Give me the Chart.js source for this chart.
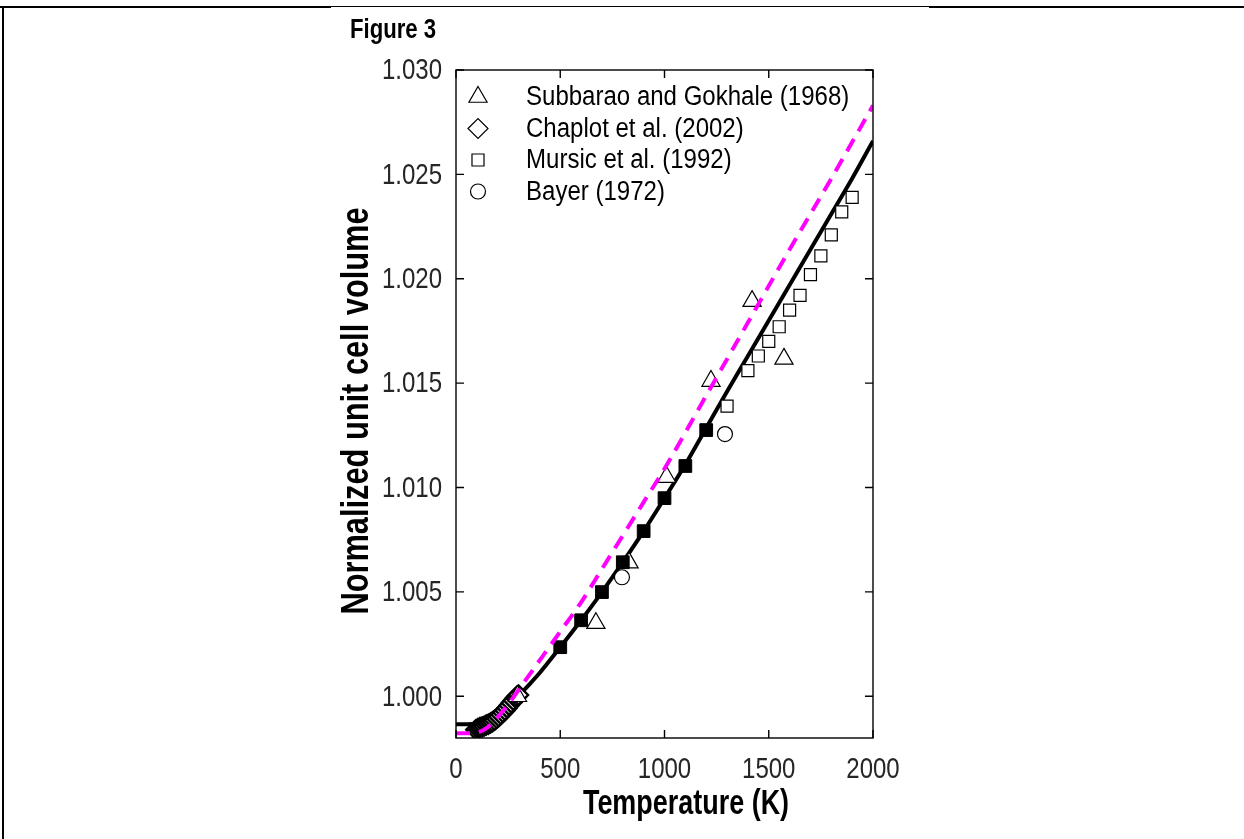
<!DOCTYPE html>
<html lang="en">
<head>
    <meta charset="UTF-8">
    <title>Figure 3</title>
    <style>
        body {
            margin: 0;
            padding: 0;
            background-color: #ffffff;
            overflow: hidden;
        }
        .page {
            position: relative;
            width: 1244px;
            height: 839px;
        }
        .rule {
            position: absolute;
            background: #000;
        }
        canvas {
            position: absolute;
            left: 0;
            top: 0;
        }
    </style>
    <script src="https://cdn.jsdelivr.net/npm/chart.js"></script>
</head>
<body>
<div class="page">
    <div class="rule" style="left:0;top:6px;width:331px;height:2px"></div>
    <div class="rule" style="left:331px;top:6px;width:598px;height:1px"></div>
    <div class="rule" style="left:929px;top:6px;width:315px;height:2px"></div>
    <div class="rule" style="left:2px;top:6px;width:2px;height:833px"></div>
    <canvas id="chartCanvas" width="1244" height="839"></canvas>
</div>
<script>
    // --- data ---
    const fitTemps = [0, 50, 100, 150, 200, 250, 300, 350, 400, 500, 600, 700, 800, 900, 1000, 1100, 1200, 1300, 1400, 1500, 1600, 1700, 1800, 1900, 2000];
    const fitVolume = [0.99866, 0.99866, 0.99868, 0.99885, 0.99918, 0.99957, 1.00003, 1.00055, 1.00110, 1.00235, 1.00364, 1.00499, 1.00642, 1.00791, 1.00949, 1.01110, 1.01285, 1.01460, 1.01630, 1.01800, 1.01970, 1.02140, 1.02310, 1.02480, 1.02660];

    const dashTemps = [0, 50, 100, 150, 200, 250, 300, 400, 500, 600, 700, 800, 900, 1000, 1200, 1400, 1600, 1800, 2000];
    const dashVolume = [0.99823, 0.99823, 0.99826, 0.99850, 0.99900, 0.99960, 1.00030, 1.00170, 1.00310, 1.00450, 1.00610, 1.00770, 1.00930, 1.01090, 1.01440, 1.01790, 1.02140, 1.02480, 1.02830];

    const calcTemps = [500, 600, 700, 800, 900, 1000, 1100, 1200];
    const calcVolume = [1.00235, 1.00364, 1.00499, 1.00642, 1.00791, 1.00949, 1.01103, 1.01275];

    const subbaraoTemps = [295, 671, 830, 1010, 1223, 1420, 1573];
    const subbaraoVolume = [1.00000, 1.00350, 1.00640, 1.01050, 1.01510, 1.01893, 1.01616];

    const chaplotTemps = [95, 105, 115, 125, 135, 145, 155, 165, 175, 185, 195, 205, 215, 225, 235, 245, 255, 265, 275, 285, 292, 300];
    const chaplotVolume = [0.99840, 0.99846, 0.99850, 0.99853, 0.99857, 0.99862, 0.99866, 0.99872, 0.99878, 0.99885, 0.99893, 0.99902, 0.99912, 0.99922, 0.99932, 0.99944, 0.99956, 0.99968, 0.99980, 0.99992, 1.00000, 1.00006];

    const mursicTemps = [1300, 1400, 1450, 1500, 1550, 1600, 1650, 1700, 1750, 1800, 1850, 1900];
    const mursicVolume = [1.01390, 1.01560, 1.01630, 1.01700, 1.01770, 1.01850, 1.01920, 1.02020, 1.02110, 1.02210, 1.02320, 1.02390];

    const bayerTemps = [293, 796, 1290];
    const bayerVolume = [0.99995, 1.00570, 1.01256];

    const xTicks = [0, 500, 1000, 1500, 2000];
    const yTicks = [1.000, 1.005, 1.010, 1.015, 1.020, 1.025, 1.030];

    const SANS = '"Liberation Sans", Arial, sans-serif';

    function pts(xs, ys) {
        return xs.map((v, i) => ({ x: v, y: ys[i] }));
    }

    function openMarker(style, radius, width) {
        return {
            showLine: false,
            pointStyle: style,
            pointRadius: radius,
            pointHoverRadius: radius,
            pointBackgroundColor: '#ffffff',
            pointBorderColor: '#000000',
            pointBorderWidth: width || 1.2,
            borderColor: '#000000',
            backgroundColor: '#ffffff',
            inLegend: true
        };
    }

    // the figure uses a narrow face; squeeze Liberation Sans along the text
    function drawText(ctx, text, x, y, font, squeeze, align) {
        ctx.save();
        ctx.translate(x, y);
        ctx.scale(squeeze, 1);
        ctx.font = font;
        ctx.textAlign = align;
        ctx.textBaseline = 'middle';
        ctx.fillText(text, 0, 0);
        ctx.restore();
    }

    const decor = {
        id: 'decor',
        afterDatasetsDraw(chart) {
            const ctx = chart.ctx;
            const a = chart.chartArea;
            const x = chart.scales.x;
            const y = chart.scales.y;
            ctx.save();

            // box round the axes
            ctx.strokeStyle = '#000';
            ctx.lineWidth = 1.4;
            ctx.strokeRect(a.left, a.top, a.right - a.left, a.bottom - a.top);

            // inward ticks on all four sides
            const len = 8;
            ctx.beginPath();
            x.ticks.forEach(t => {
                const px = x.getPixelForValue(t.value);
                ctx.moveTo(px, a.bottom); ctx.lineTo(px, a.bottom - len);
                ctx.moveTo(px, a.top); ctx.lineTo(px, a.top + len);
            });
            y.ticks.forEach(t => {
                const py = y.getPixelForValue(t.value);
                ctx.moveTo(a.left, py); ctx.lineTo(a.left + len, py);
                ctx.moveTo(a.right, py); ctx.lineTo(a.right - len, py);
            });
            ctx.stroke();

            // tick labels
            ctx.fillStyle = '#262626';
            x.ticks.forEach(t => {
                drawText(ctx, String(t.value), x.getPixelForValue(t.value), a.bottom + 32, '30px ' + SANS, 0.8, 'center');
            });
            y.ticks.forEach(t => {
                drawText(ctx, t.value.toFixed(3), a.left - 14, y.getPixelForValue(t.value) + 1, '30px ' + SANS, 0.8, 'right');
            });

            // legend, top left inside the axes
            let row = 0;
            chart.data.datasets.forEach(ds => {
                if (!ds.inLegend) return;
                const cy = a.top + 27 + row * 31.5;
                const cx = a.left + 22;
                ctx.fillStyle = '#ffffff';
                ctx.strokeStyle = '#000000';
                ctx.lineWidth = 1.2;
                Chart.helpers.drawPoint(ctx, {
                    pointStyle: ds.pointStyle,
                    radius: ds.legendRadius || ds.pointRadius,
                    borderWidth: 1.2
                }, cx, cy);
                ctx.fillStyle = '#000';
                drawText(ctx, ds.label, a.left + 70, cy + 1, '27px ' + SANS, 0.89, 'left');
                row++;
            });
            ctx.restore();
        },
        afterDraw(chart) {
            const ctx = chart.ctx;
            ctx.save();
            ctx.fillStyle = '#000';
            drawText(ctx, 'Figure 3', 350, 31, 'bold 27px ' + SANS, 0.82, 'left');
            drawText(ctx, 'Temperature (K)', 686, 804, 'bold 35px ' + SANS, 0.77, 'center');
            ctx.translate(358, 411);
            ctx.rotate(-Math.PI / 2);
            drawText(ctx, 'Normalized unit cell volume', 0, 0, 'bold 38px ' + SANS, 0.81, 'center');
            ctx.restore();
        }
    };

    new Chart(document.getElementById('chartCanvas').getContext('2d'), {
        type: 'scatter',
        data: {
            datasets: [
                {
                    label: 'fit',
                    type: 'line',
                    data: pts(fitTemps, fitVolume),
                    borderColor: '#000000',
                    borderWidth: 4,
                    pointRadius: 0,
                    cubicInterpolationMode: 'monotone',
                    order: 2
                },
                {
                    label: 'model',
                    type: 'line',
                    data: pts(dashTemps, dashVolume),
                    borderColor: '#ff00ff',
                    borderWidth: 4,
                    borderDash: [14, 9],
                    pointRadius: 0,
                    cubicInterpolationMode: 'monotone',
                    order: -1
                },
                {
                    label: 'calculated',
                    data: pts(calcTemps, calcVolume),
                    pointStyle: 'rect',
                    pointRadius: 9,
                    pointBackgroundColor: '#000000',
                    pointBorderColor: '#000000',
                    order: 0
                },
                Object.assign(openMarker('triangle', 10.5), {
                    label: 'Subbarao and Gokhale (1968)',
                    data: pts(subbaraoTemps, subbaraoVolume),
                    order: 0
                }),
                Object.assign(openMarker('rectRot', 9.5, 2.4), {
                    label: 'Chaplot et al. (2002)',
                    data: pts(chaplotTemps, chaplotVolume),
                    legendRadius: 10,
                    order: 0
                }),
                Object.assign(openMarker('rect', 8.5), {
                    label: 'Mursic et al. (1992)',
                    data: pts(mursicTemps, mursicVolume),
                    order: 0
                }),
                Object.assign(openMarker('circle', 7.5), {
                    label: 'Bayer (1972)',
                    data: pts(bayerTemps, bayerVolume),
                    order: 0
                })
            ]
        },
        options: {
            responsive: false,
            animation: false,
            layout: {
                padding: { top: 70, right: 371, bottom: 0, left: 0 }
            },
            plugins: {
                legend: { display: false },
                tooltip: { enabled: false }
            },
            scales: {
                x: {
                    type: 'linear',
                    min: 0,
                    max: 2000,
                    afterFit: s => { s.height = 101; },
                    afterBuildTicks: s => { s.ticks = xTicks.map(v => ({ value: v })); },
                    grid: { display: false, drawTicks: false },
                    border: { display: false },
                    ticks: { color: 'rgba(0,0,0,0)', maxRotation: 0 }
                },
                y: {
                    type: 'linear',
                    min: 0.998,
                    max: 1.030,
                    afterFit: s => { s.width = 456; },
                    afterBuildTicks: s => { s.ticks = yTicks.map(v => ({ value: v })); },
                    grid: { display: false, drawTicks: false },
                    border: { display: false },
                    ticks: { color: 'rgba(0,0,0,0)' }
                }
            }
        },
        plugins: [decor]
    });
</script>
</body>
</html>
